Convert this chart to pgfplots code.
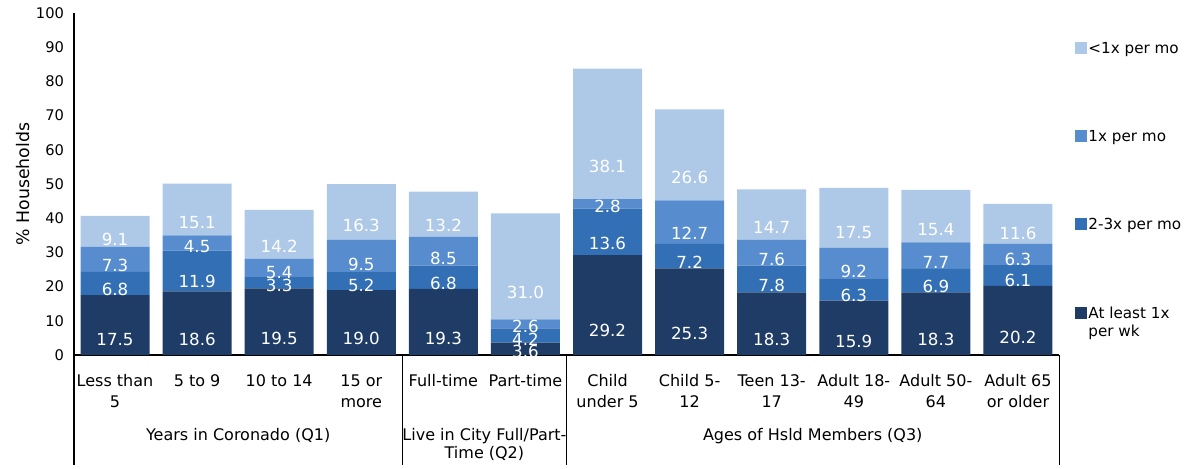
\documentclass[border=0pt]{standalone}
\usepackage{pgfplots}
\usepackage{pgfplotstable}
\pgfplotsset{compat=1.18}
\usepackage{fontspec}
\setmainfont{DejaVu Sans}
\definecolor{cA}{HTML}{1E3C66}
\definecolor{cB}{HTML}{336FB5}
\definecolor{cC}{HTML}{578DCF}
\definecolor{cD}{HTML}{AEC9E8}
\pgfplotstableread{
x a b c d
0 17.5 6.8 7.3 9.1
1 18.6 11.9 4.5 15.1
2 19.5 3.3 5.4 14.2
3 19.0 5.2 9.5 16.3
4 19.3 6.8 8.5 13.2
5 3.6 4.2 2.6 31.0
6 29.2 13.6 2.8 38.1
7 25.3 7.2 12.7 26.6
8 18.3 7.8 7.6 14.7
9 15.9 6.3 9.2 17.5
10 18.3 6.9 7.7 15.4
11 20.2 6.1 6.3 11.6
}\data
\pgfplotsset{seglabel/.style={
  nodes near coords={\pgfmathprintnumber[fixed,fixed zerofill,precision=1,assume math mode=true]{\pgfplotspointmeta}},
  point meta=explicit,
  visualization depends on={\thisrow{#1}\as\segval},
  every node near coord/.style={anchor=center, shift={(axis direction cs:0,-\segval/4)}, text=white, font=\fontsize{12.5}{13}\selectfont, inner sep=0pt},
}}
\begin{document}
\begin{tikzpicture}
\begin{axis}[
  name=ax,
  scale only axis,
  width=738.75pt, height=256.5pt,
  ybar stacked, bar width=0.84,
  xmin=-0.5, xmax=11.5, ymin=0, ymax=100,
  ytick={0,10,...,100},
  xtick={0,...,11},
  xticklabels={{Less than\\5},{5 to 9},{10 to 14},{15 or\\more},{Full-time},{Part-time},{Child\\under 5},{Child 5-\\12},{Teen 13-\\17},{Adult 18-\\49},{Adult 50-\\64},{Adult 65\\or older}},
  xticklabel style={align=center, anchor=north, yshift=-11pt, font=\fontsize{12}{15.75}\selectfont},
  yticklabel style={font=\fontsize{11}{12}\selectfont, xshift=-4pt},
  /pgf/number format/assume math mode=true,
  major tick length=0pt,
  axis x line*=bottom, axis y line*=left,
  axis line style={black, line width=0.8pt},
  ylabel={\% Households},
  ylabel style={font=\fontsize{13}{14}\selectfont, yshift=-2pt},
  clip=false,
  legend style={at={(rel axis cs:1.016,0.919)}, anchor=north west, draw=none, fill=none,
    font=\fontsize{11.4}{14}\selectfont, row sep=54pt, inner sep=0pt,
    nodes={inner sep=1pt, anchor=base west}},
  legend cell align=left,
  reverse legend,
  legend image code/.code={\fill[#1,draw=none] (0pt,-0.5pt) rectangle (9pt,8.5pt);},
]
\addplot[fill=cA, draw=none, seglabel=a] table[x=x,y=a,meta=a]{\data};
\addlegendentry{\begin{tabular}[t]{@{}l@{}}At least 1x\\[-1pt]per wk\end{tabular}}
\addplot[fill=cB, draw=none, seglabel=b] table[x=x,y=b,meta=b]{\data};
\addlegendentry{2-3x per mo}
\addplot[fill=cC, draw=none, seglabel=c] table[x=x,y=c,meta=c]{\data};
\addlegendentry{1x per mo}
\addplot[fill=cD, draw=none, seglabel=d] table[x=x,y=d,meta=d]{\data};
\addlegendentry{<1x per mo}
\draw[black, line width=0.8pt] (rel axis cs:0,0) -- (rel axis cs:0,-0.322);
\draw[black, line width=0.6pt] (rel axis cs:0.3333,0) -- (rel axis cs:0.3333,-0.322);
\draw[black, line width=0.6pt] (rel axis cs:0.5,0) -- (rel axis cs:0.5,-0.322);
\draw[black, line width=0.6pt] (rel axis cs:1,0) -- (rel axis cs:1,-0.322);
\node[anchor=north, inner sep=0pt, font=\fontsize{12}{13.5}\selectfont, align=center] at (rel axis cs:0.16667,-0.215) {Years in Coronado (Q1)};
\node[anchor=north, inner sep=0pt, font=\fontsize{12}{13.5}\selectfont, align=center] at (rel axis cs:0.41667,-0.215) {Live in City Full/Part-\\Time (Q2)};
\node[anchor=north, inner sep=0pt, font=\fontsize{12}{13.5}\selectfont, align=center] at (rel axis cs:0.75,-0.215) {Ages of Hsld Members (Q3)};
\end{axis}
\pgfresetboundingbox
\path (-55.5pt,-84.75pt) rectangle (837.75pt,266.25pt);
\end{tikzpicture}
\end{document}
